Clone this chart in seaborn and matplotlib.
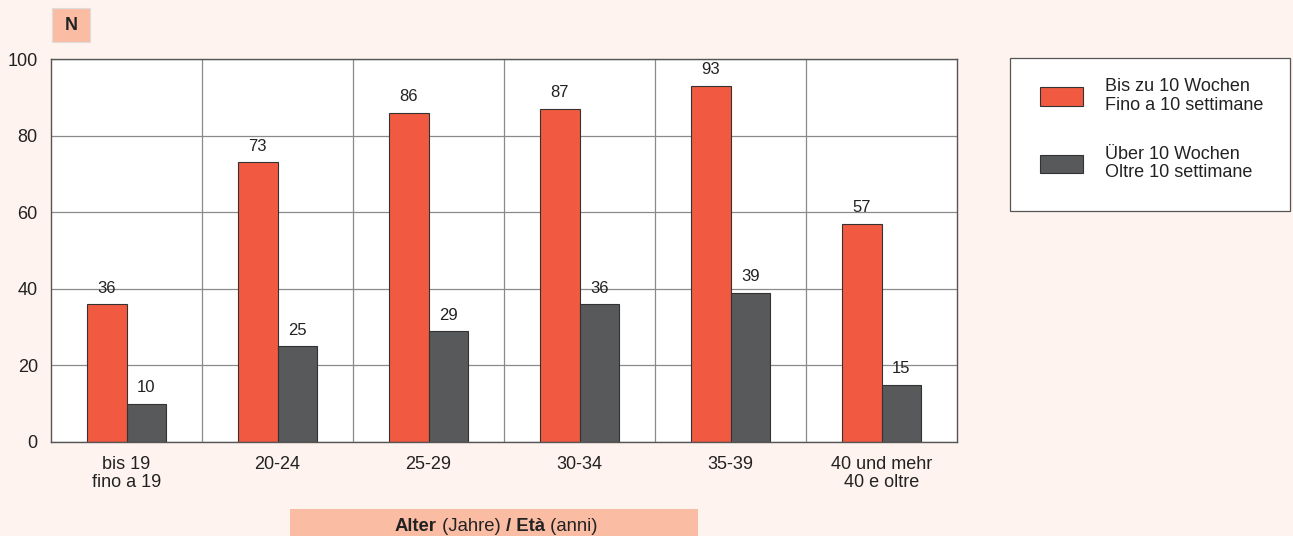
import matplotlib
matplotlib.use("Agg")
import matplotlib.pyplot as plt
import seaborn as sns
import pandas as pd
from matplotlib.patches import Rectangle

categories = ["bis 19\nfino a 19", "20-24", "25-29", "30-34", "35-39", "40 und mehr\n40 e oltre"]
series_names = ["Bis zu 10 Wochen\nFino a 10 settimane", "Über 10 Wochen\nOltre 10 settimane"]
up_to_10 = [36, 73, 86, 87, 93, 57]
over_10 = [10, 25, 29, 36, 39, 15]
colors = ["#F15A40", "#58595B"]
bg = "#FEF3EE"

df = pd.DataFrame({
    "cat": categories * 2,
    "series": [series_names[0]] * len(categories) + [series_names[1]] * len(categories),
    "value": up_to_10 + over_10,
})

sns.set_theme(style="white")
plt.rcParams["font.family"] = ["Liberation Sans", "DejaVu Sans"]

fig = plt.figure(figsize=(12.93, 5.36), dpi=100, facecolor=bg)
ax = fig.add_axes([51/1293, 1-442/536, (957-51)/1293, (442-59)/536])
ax.set_facecolor("white")

sns.barplot(data=df, x="cat", y="value", hue="series", palette=colors,
            width=0.52, edgecolor="#333333", linewidth=0.8, ax=ax, legend=True,
            saturation=1)

for c in ax.containers:
    ax.bar_label(c, padding=6, fontsize=12, color="#222222")

ax.set_ylim(0, 100)
ax.set_xlim(-0.5, len(categories) - 0.5)
ax.set_yticks(range(0, 101, 20))
ax.yaxis.grid(True, color="#8a8a8a", linewidth=0.9)
for i in range(1, len(categories)):
    ax.axvline(i - 0.5, color="#8a8a8a", linewidth=0.9, zorder=0)
ax.set_axisbelow(True)
ax.set_xlabel("")
ax.set_ylabel("")
ax.tick_params(axis="both", length=0, labelsize=13, colors="#222222")
ax.tick_params(axis="x", pad=10)
ax.tick_params(axis="y", pad=9.5)
for t in ax.get_xticklabels():
    t.set_linespacing(1.12)
for s in ax.spines.values():
    s.set_color("#555555")
    s.set_linewidth(1.0)

# Legend
handles, labels = ax.get_legend_handles_labels()
ax.get_legend().remove()
fig.patches.append(Rectangle((1010/1293, 1-211/536), (1290-1010)/1293, (211-58)/536,
                             transform=fig.transFigure, facecolor="white",
                             edgecolor="#555555", linewidth=0.9, zorder=0))
leg = fig.legend(handles, labels, loc="upper left", bbox_to_anchor=(1040/1293, 1-78/536),
                 frameon=False, fontsize=13, handlelength=2.38, handleheight=1.22,
                 labelspacing=1.75, handletextpad=1.22, borderpad=0, borderaxespad=0,
                 labelcolor="#222222")
for t in leg.get_texts():
    t.set_linespacing(1.15)

# "N" box
fig.patches.append(Rectangle((52/1293, 1-42/536), 38/1293, 34/536, transform=fig.transFigure,
                             facecolor="#FBBCA4", edgecolor="#dddddd", linewidth=0.8))
fig.text(71/1293, 1-26/536, "N", ha="center", va="center", fontsize=13,
         fontweight="bold", color="#222222")

# x-axis title box
fig.patches.append(Rectangle((290/1293, 0), (698-290)/1293, 27/536, transform=fig.transFigure,
                             facecolor="#FBBCA4", edgecolor="none"))
parts = [("Alter", "bold"), (" (Jahre) ", "normal"), ("/ Età", "bold"), (" (anni)", "normal")]
fig.canvas.draw()
r = fig.canvas.get_renderer()
texts = []
for s, w in parts:
    t = fig.text(0, 1-531/536, s, ha="left", va="baseline", fontsize=13.3, fontweight=w, color="#222222")
    texts.append(t)
widths = [t.get_window_extent(r).width for t in texts]
total = sum(widths)
x = 496 - total / 2
for t, w in zip(texts, widths):
    t.set_position((x / 1293, 1-531/536))
    x += w

fig.savefig("out.png", dpi=100, facecolor=bg)
